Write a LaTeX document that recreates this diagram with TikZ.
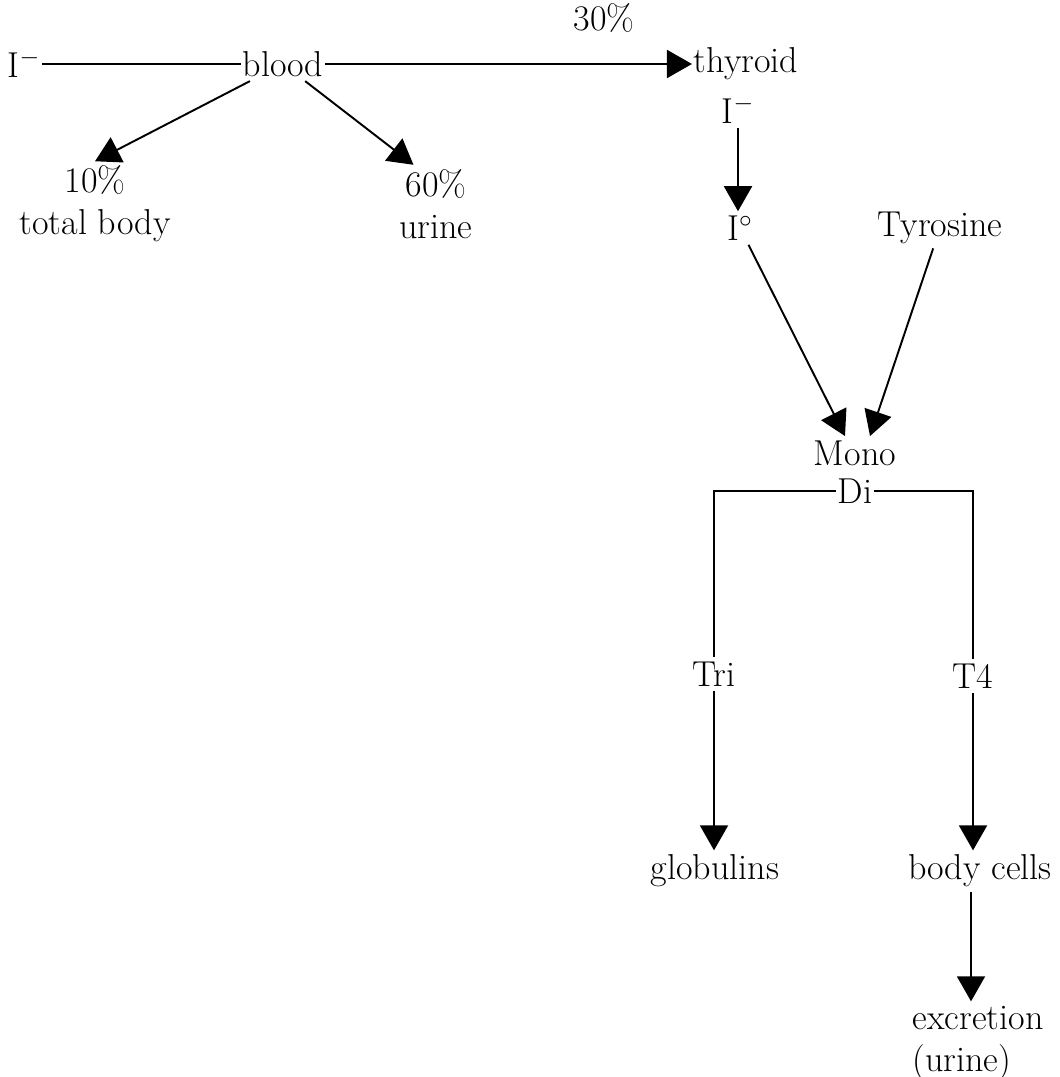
\documentclass[tikz,border=0pt]{standalone}
\usetikzlibrary{arrows.meta, positioning}
\begin{document}
\begin{tikzpicture}[x=0.02cm, y=-0.02cm, font=\fontsize{20.5}{24}\selectfont, line width=1.1pt]
 \tikzset{lbl/.style={inner xsep=0.5pt, inner ysep=2pt}}
 \tikzset{flow/.style={-{Triangle[length=5mm,width=5.6mm]}}}
 \useasboundingbox (0,0) rectangle (1060,1077);

 % top row
 \node[lbl] (Iin) at (24,64) {I$^-$};
 \node[lbl] (blood) at (283,64) {blood};
 \node[lbl] (thyroid) at (746,64) {thyroid};
 \node[lbl, align=center] (body) at (95,204) {10\%\\total body};
 \node[lbl, align=center] (urine) at (436,204) {60\%\\urine};

 \draw (Iin) -- (blood);
 \draw[flow] (blood) -- node[pos=0.76, above=14pt] (pct) {30\%} (thyroid);
 \draw[flow] (blood) -- (body.north);
 \draw[flow] (blood) -- ([xshift=-0.45cm]urine.north);

 % thyroid column
 \node[lbl] (Ithy) at (738,110) {I$^-$};
 \node[lbl] (Io) at (740,228) {I$^{\circ}$};
 \node[lbl] (tyr) at (940,228) {Tyrosine};
 \node[lbl] (mono) at (855,453) {Mono};
 \node[lbl] (di) at (855,491) {Di};

 \draw[flow] (Ithy) -- (Ithy |- Io.north);
 \draw[flow] (Io) -- ([xshift=-0.2cm]mono.north);
 \draw[flow] (tyr) -- ([xshift=0.3cm]mono.north);

 % branches
 \node[lbl] (tri) at (714,674) {Tri};
 \node[lbl] (t4) at (973,676) {T4};
 \node[lbl] (glob) at (715,871) {globulins};
 \node[lbl] (cells) at (980,871) {body cells};
 \node[lbl, align=left] (excr) at (978,1043) {excretion\\(urine)};

 \draw (di.west) -| (tri.north);
 \draw (di.east) -| (t4.north);
 \draw[flow] (tri) -- (tri |- glob.north);
 \draw[flow] (t4) -- (t4 |- cells.north);
 \draw[flow] ([xshift=-0.18cm]cells.south) -- ([xshift=-0.18cm]cells.south |- excr.north);
\end{tikzpicture}
\end{document}
